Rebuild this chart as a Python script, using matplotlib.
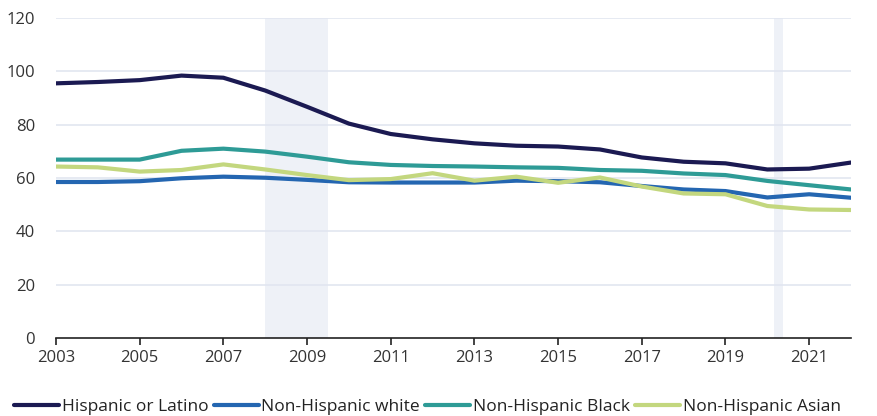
import matplotlib
matplotlib.use("Agg")
import matplotlib.pyplot as plt

years = list(range(2003, 2023))
hispanic = [95.5, 96.0, 96.7, 98.4, 97.6, 92.8, 86.7, 80.4, 76.5, 74.5, 73.0, 72.1, 71.8, 70.7, 67.7, 66.1, 65.5, 63.2, 63.5, 65.8]
white = [58.5, 58.5, 58.8, 59.9, 60.5, 60.1, 59.3, 58.4, 58.3, 58.3, 58.3, 59.0, 58.8, 58.4, 57.0, 55.7, 55.1, 52.7, 53.9, 52.6]
black = [66.9, 66.9, 66.9, 70.2, 71.0, 69.9, 68.0, 65.9, 64.9, 64.5, 64.3, 64.0, 63.8, 63.0, 62.7, 61.7, 61.1, 58.9, 57.3, 55.7]
asian = [64.3, 64.0, 62.4, 63.0, 65.1, 63.2, 61.1, 59.2, 59.6, 61.8, 59.0, 60.5, 58.2, 60.2, 56.8, 54.2, 53.9, 49.5, 48.2, 48.0]
series_names = ["Hispanic or Latino", "Non-Hispanic white", "Non-Hispanic Black", "Non-Hispanic Asian"]
colors = ["#1b1a52", "#2466b1", "#2e9b96", "#c3d77e"]
recessions = [(2008.0, 2009.5), (2020.17, 2020.37)]
xticks = list(range(2003, 2022, 2))
yticks = [0, 20, 40, 60, 80, 100, 120]

plt.rcParams['font.family'] = ['Open Sans', 'DejaVu Sans']
fig = plt.figure(figsize=(8.78, 4.16), dpi=100)
ax = fig.add_axes([56/878, 78/416, (851-56)/878, (338-18)/416])

for a, b in recessions:
    ax.axvspan(a, b, color="#eef1f7", lw=0, zorder=0)

for yv in yticks[1:]:
    ax.axhline(yv, color="#e1e6f0", lw=1.2, zorder=1)

for vals, name, c in zip([hispanic, white, black, asian], series_names, colors):
    ax.plot(years, vals, color=c, lw=3, label=name, zorder=3, solid_capstyle='round')

ax.set_xlim(2003, 2022)
ax.set_ylim(0, 120)
ax.set_xticks(xticks)
ax.set_yticks(yticks)
ax.tick_params(axis='y', length=0, labelsize=12, labelcolor="#333333", pad=15)
ax.tick_params(axis='x', length=5, width=1.2, color="#222222", labelsize=12, labelcolor="#333333", direction='out')
for s in ["top", "right", "left"]:
    ax.spines[s].set_visible(False)
ax.spines["bottom"].set_color("#222222")
ax.spines["bottom"].set_linewidth(1.2)

leg = fig.legend(loc='center', bbox_to_anchor=(0.487, 0.022), ncol=4, frameon=False,
                 fontsize=12.5, handlelength=2.6, handletextpad=0.15, columnspacing=0.3,
                 labelcolor="#222222")
fig.savefig("out.png", dpi=100)
